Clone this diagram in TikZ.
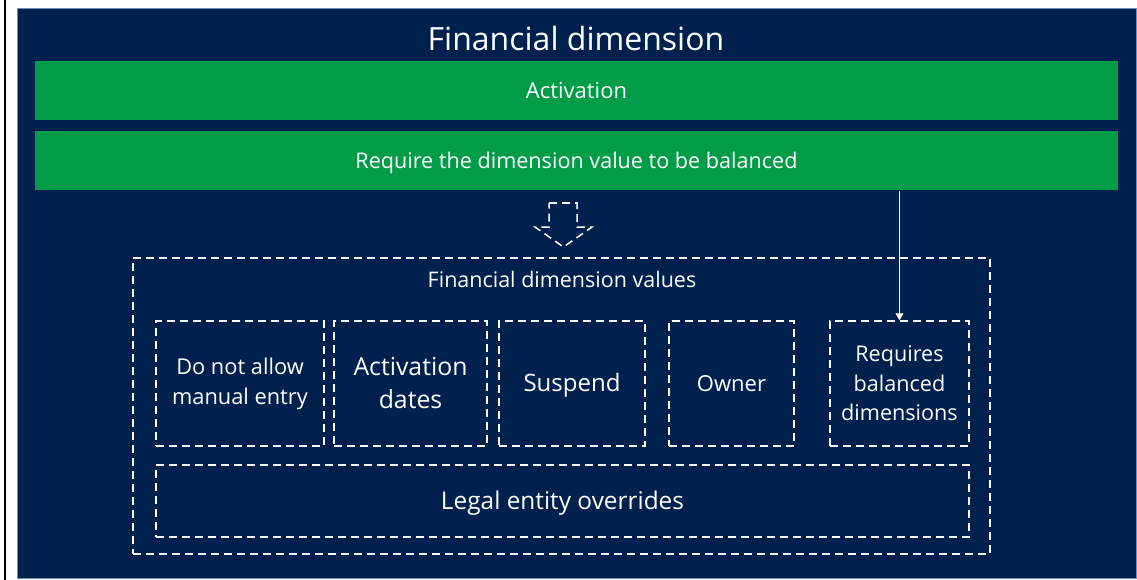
\documentclass[tikz,border=0pt]{standalone}
\usepackage{fontspec}
\setmainfont{Open Sans}
\usetikzlibrary{arrows.meta}
\definecolor{navy}{RGB}{0,32,78}
\definecolor{actgreen}{RGB}{0,156,72}
\definecolor{rim}{RGB}{104,142,190}
\newcommand{\fsz}[2]{\fontsize{#1}{#2}\selectfont}
\tikzset{
  bar/.style={fill=actgreen, text=white, minimum width=1083, minimum height=59, inner sep=0pt},
  valbox/.style={draw=white, dashed, dash pattern=on 8pt off 5pt, line width=1.5pt, text=white, align=center, inner sep=0pt}
}

\begin{document}
\begin{tikzpicture}[x=1pt,y=-1pt]
	\useasboundingbox (0,0) rectangle (1137,580);
	\draw[line width=2pt] (5,0) -- (5,580);
	\node[draw=rim, fill=navy, line width=1pt, minimum width=1119, minimum height=569, anchor=north west, inner sep=0pt] (frame) at (16.5,8.5) {};
	\node[text=white, font=\fsz{32}{36}] (title) at (576,39) {Financial dimension};
	\node[bar, font=\fsz{22}{26}] (act) at (576.5,91) {Activation};
	\node[bar, font=\fsz{21.6}{26}, text height=21pt] (req) at (576.5,161) {Require the dimension value to be balanced};
	% outline arrow into the values
	\coordinate (darr) at (563,203);
	\draw[valbox] (darr) ++(-14,0) -- ++(28,0) -- ++(0,24) -- ++(15,0) -- ++(-28.5,20) -- ++(-28.5,-20) -- ++(14,0) -- cycle;
	\node[valbox, minimum width=857, minimum height=296] (vals) at (561.5,406) {};
	\node[text=white, font=\fsz{21.5}{25}] (valtitle) at (562,279) {Financial dimension values};
	\node[valbox, minimum width=168, minimum height=125, font=\fsz{21.8}{30}] (manual) at (240,383.5) {Do not allow\\manual entry};
	\node[valbox, minimum width=153, minimum height=125, font=\fsz{24.8}{33}] (dates) at (410.5,383.5) {Activation\\dates};
	\node[valbox, minimum width=146, minimum height=125, font=\fsz{24}{28}, text height=21pt] (susp) at (572,383.5) {Suspend};
	\node[valbox, minimum width=125, minimum height=125, font=\fsz{22}{26}] (owner) at (731.5,383.5) {Owner};
	\node[valbox, minimum width=139, minimum height=125, font=\fsz{21.6}{29.5}] (rbd) at (899.5,383.5) {Requires\\balanced\\dimensions};
	\node[valbox, minimum width=813, minimum height=72, font=\fsz{24.4}{28}, text height=22pt] (legal) at (562.5,501) {Legal entity overrides};
	\draw[white, line width=1pt, -{Triangle[width=8pt,length=7pt]}] (req.south -| rbd.north) -- (rbd.north);
\end{tikzpicture}
\end{document}
